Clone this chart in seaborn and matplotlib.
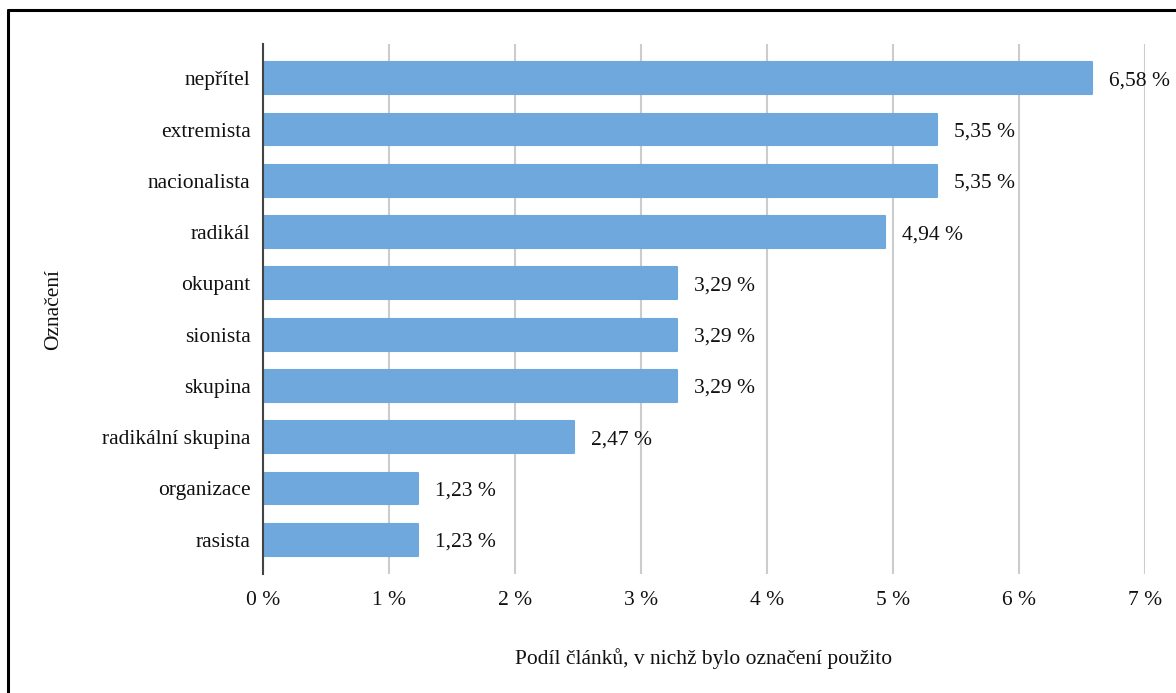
import matplotlib
matplotlib.use("Agg")
import matplotlib.pyplot as plt
import seaborn as sns
import pandas as pd
from matplotlib.lines import Line2D

sns.set_theme(style="white")
plt.rcParams["font.family"] = ["Liberation Serif", "DejaVu Serif"]

# data
labels = ["nepřítel", "extremista", "nacionalista", "radikál", "okupant",
          "sionista", "skupina", "radikální skupina", "organizace", "rasista"]
shares = [6.58, 5.35, 5.35, 4.94, 3.29, 3.29, 3.29, 2.47, 1.23, 1.23]
ticks = [0, 1, 2, 3, 4, 5, 6, 7]

df = pd.DataFrame({"label": labels, "share": shares})

fig = plt.figure(figsize=(11.76, 6.93), dpi=100)
ax = fig.add_axes([0.2236, 0.1717, 0.75, 0.7648])

sns.barplot(data=df, x="share", y="label", orient="h", color="#6FA8DC",
            saturation=1, width=0.62, ax=ax, zorder=3,
            edgecolor="#6FA8DC", linewidth=1.5)
for p in ax.patches:
    p.set_joinstyle("round")

# value labels
for i, v in enumerate(shares):
    ax.annotate(f"{v:.2f} %".replace(".", ","), xy=(v, i), xytext=(12, 0),
                textcoords="offset points", va="center_baseline", ha="left",
                fontsize=15.5, color="#111111")

ax.set_xlim(0, 7)
ax.set_ylim(len(labels) - 0.5 + 0.17, -0.5 - 0.17)
ax.set_xticks(ticks)
ax.set_xticklabels([f"{t} %" for t in ticks])
ax.xaxis.grid(True, color="#cccccc", linewidth=1.5, zorder=0)
ax.set_axisbelow(True)

for s in ["top", "right", "bottom"]:
    ax.spines[s].set_visible(False)
ax.spines["left"].set_color("#444444")
ax.spines["left"].set_linewidth(1.5)
ax.spines["left"].set_zorder(4)

ax.tick_params(axis="both", length=0, labelsize=15.5, colors="#111111")
ax.tick_params(axis="x", pad=12)
ax.tick_params(axis="y", pad=9)

ax.set_xlabel("Podíl článků, v nichž bylo označení použito", fontsize=15.5,
              labelpad=28, color="#111111")
ax.set_ylabel("Označení", fontsize=15.5, color="#111111")
ax.yaxis.set_label_coords(-0.226, 0.5)

# outer frame (left and top edges visible in the reference)
fig.add_artist(Line2D([0.0065, 0.0065], [0, 0.986], transform=fig.transFigure,
                      color="black", linewidth=2.2))
fig.add_artist(Line2D([0.0065, 1], [0.986, 0.986], transform=fig.transFigure,
                      color="black", linewidth=2.2))

fig.savefig("out.png", dpi=100)
